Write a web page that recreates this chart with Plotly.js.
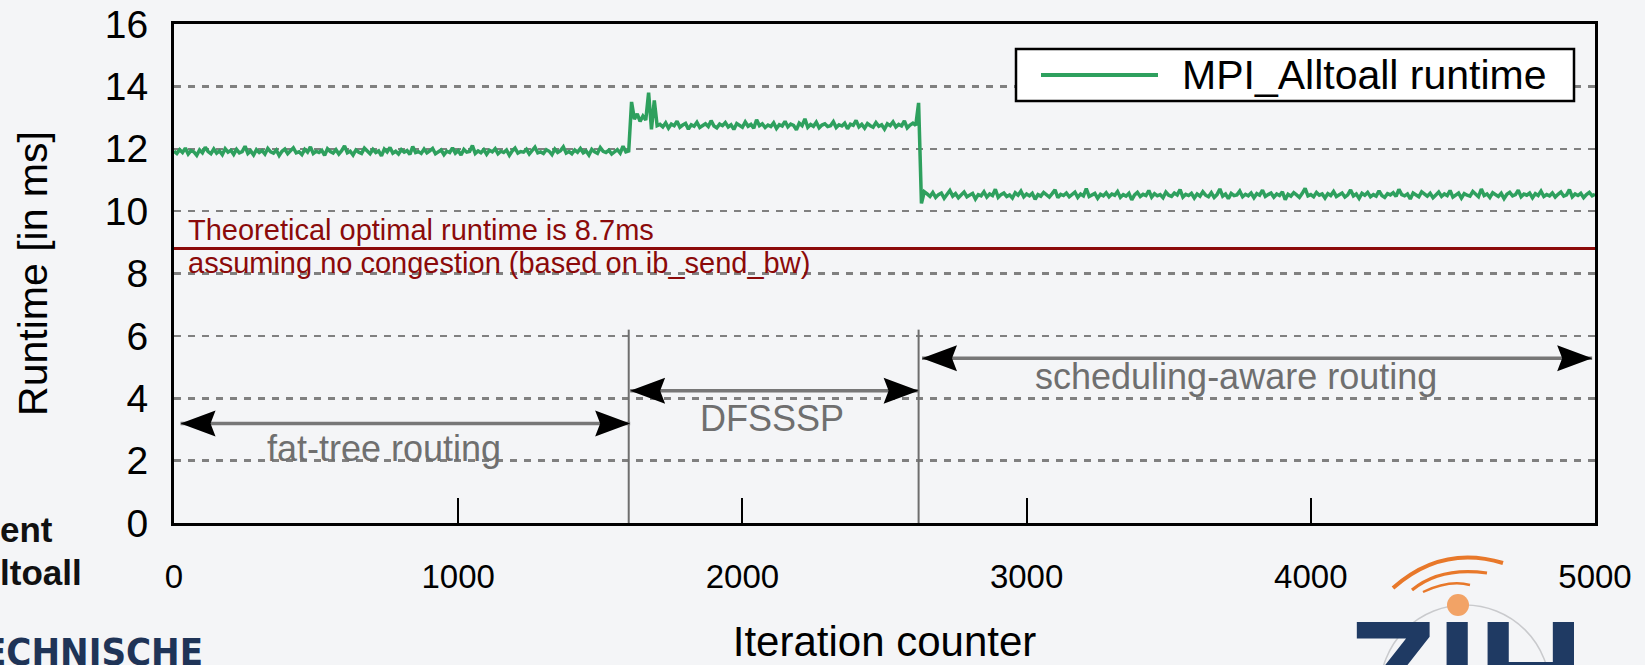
<!DOCTYPE html>
<html>
<head>
<meta charset="utf-8">
<script src="https://cdn.plot.ly/plotly-3.0.1.min.js"></script>
<style>
  html, body { margin: 0; padding: 0; background: #f4f5f7; }
  #chart { width: 1645px; height: 665px; }
</style>
</head>
<body>
<div id="chart"></div>
<script>
// ---------------- data ----------------
const iterationStep = 10;          // one sample every 10 iterations (x0 = 0)

// fat-tree routing phase: iterations 0 .. 1600
const fatTreeRuntime = [
  11.92,11.85,11.97,11.88,12.02,11.83,11.94,11.90,11.79,11.96,11.87,12.05,11.91,11.84,11.99,11.86,11.93,11.81,12.00,11.89,
  11.95,11.82,11.98,11.87,11.91,12.08,11.85,11.93,11.80,11.97,11.88,11.94,11.83,12.01,11.90,11.86,11.96,11.78,11.92,11.99,
  11.84,11.93,12.03,11.87,11.90,11.81,11.98,11.89,12.06,11.85,11.92,11.88,11.95,11.79,12.00,11.91,11.86,11.97,11.83,11.94,
  12.09,11.87,11.92,11.80,11.96,11.89,11.85,12.02,11.91,11.84,11.98,11.88,11.93,11.77,11.99,11.90,12.04,11.86,11.92,11.83,
  11.97,11.89,11.94,11.82,12.07,11.88,11.91,11.85,11.99,11.87,11.93,12.01,11.84,11.90,11.96,11.81,11.92,11.88,12.03,11.86,
  11.94,11.80,11.98,11.89,11.91,12.10,11.85,11.93,11.87,11.97,11.82,11.95,11.90,12.00,11.84,11.92,11.88,11.96,11.79,11.93,
  12.02,11.86,11.91,11.89,11.98,11.83,11.94,12.05,11.87,11.90,11.85,11.97,11.92,11.81,11.99,11.88,11.94,12.06,11.86,11.91,
  11.84,11.96,11.89,12.01,11.87,11.93,11.80,11.98,11.90,11.85,12.04,11.92,11.88,11.95,11.83,11.91,11.97,11.86,12.08,11.90,
  11.93
];

// DFSSSP phase: iterations 1610 .. 2610
const dfssspRuntime = [
  13.50,12.95,13.12,12.88,13.05,12.92,13.80,12.62,13.55,12.74,
  12.78,12.70,12.83,12.66,12.79,12.74,12.88,12.69,12.76,12.81,12.63,12.77,12.72,12.85,12.68,12.75,12.80,12.71,12.90,12.73,
  12.67,12.79,12.74,12.84,12.70,12.77,12.62,12.81,12.75,12.69,12.86,12.72,12.78,12.66,12.93,12.74,12.80,12.68,12.76,12.71,
  12.83,12.65,12.77,12.73,12.88,12.70,12.79,12.75,12.61,12.82,12.74,12.96,12.69,12.78,12.72,12.85,12.67,12.76,12.80,12.71,
  12.74,12.87,12.68,12.77,12.73,12.82,12.64,12.79,12.75,12.91,12.70,12.78,12.66,12.81,12.74,12.69,12.84,12.72,12.77,12.63,
  12.80,12.74,12.86,12.70,12.78,12.73,12.89,12.67,12.76,12.82,12.75
];

// scheduling-aware routing phase: iterations 2620 .. 5000
const schedAwareRuntime = [
  13.47,10.25,10.62,
  10.55,10.47,10.60,10.44,10.53,10.58,10.41,10.52,10.66,10.48,10.56,10.43,10.54,10.61,10.46,10.51,10.57,10.39,10.53,10.49,
  10.62,10.45,10.55,10.50,10.70,10.44,10.53,10.58,10.47,10.52,10.42,10.59,10.51,10.64,10.46,10.55,10.49,10.57,10.38,10.53,
  10.48,10.60,10.52,10.45,10.56,10.68,10.43,10.54,10.50,10.58,10.46,10.53,10.61,10.44,10.55,10.49,10.72,10.47,10.52,10.57,
  10.41,10.54,10.49,10.59,10.46,10.55,10.51,10.63,10.44,10.53,10.48,10.57,10.36,10.52,10.60,10.47,10.54,10.50,10.66,10.45,
  10.56,10.49,10.53,10.43,10.61,10.51,10.47,10.58,10.52,10.69,10.45,10.54,10.50,10.57,10.42,10.55,10.48,10.62,10.51,10.46,
  10.59,10.44,10.53,10.71,10.48,10.55,10.40,10.57,10.50,10.52,10.64,10.46,10.54,10.49,10.58,10.43,10.56,10.51,10.67,10.47,
  10.53,10.58,10.45,10.55,10.50,10.62,10.37,10.54,10.48,10.59,10.52,10.44,10.57,10.73,10.49,10.53,10.46,10.60,10.51,10.55,
  10.42,10.56,10.50,10.63,10.47,10.54,10.58,10.45,10.52,10.68,10.49,10.55,10.41,10.57,10.51,10.60,10.46,10.53,10.48,10.65,
  10.50,10.44,10.56,10.52,10.59,10.47,10.70,10.53,10.49,10.55,10.39,10.58,10.51,10.46,10.62,10.54,10.48,10.57,10.43,10.52,
  10.61,10.47,10.55,10.50,10.66,10.45,10.53,10.58,10.42,10.56,10.51,10.48,10.63,10.54,10.46,10.71,10.50,10.55,10.44,10.59,
  10.52,10.47,10.57,10.40,10.54,10.60,10.49,10.53,10.67,10.46,10.55,10.51,10.58,10.43,10.56,10.50,10.64,10.47,10.53,10.49,
  10.58,10.45,10.54,10.61,10.48,10.52,10.69,10.46,10.55,10.50,10.57,10.43,10.53,10.60,10.49,10.54
];

const seriesName = 'MPI_Alltoall runtime';
const optimalRuntime = 8.8;
const optimalText = ['Theoretical optimal runtime is 8.7ms', 'assuming no congestion (based on ib_send_bw)'];

const phaseNames = ['fat-tree routing', 'DFSSSP', 'scheduling-aware routing'];
const phaseStart = [0, 1600, 2620];
const phaseEnd = [1600, 2620, 5000];

const xTicks = [0, 1000, 2000, 3000, 4000, 5000];
const xTickText = ['0', '1000', '2000', '3000', '4000', '5000'];
const xTitle = 'Iteration counter';
const yTitle = 'Runtime [in ms]';
const slideFragments = ['ent', 'ltoall', 'ECHNISCHE', 'ZIH'];

// ---------------- drawing ----------------
const FONT = 'Liberation Sans, Arial, Helvetica, sans-serif';
const GREEN = '#2ea05e';
const DARKRED = '#8b0a0a';
const GREYTXT = '#6f6f6f';

const runtime = fatTreeRuntime.concat(dfssspRuntime, schedAwareRuntime);

const traces = [{
  type: 'scatter', mode: 'lines',
  x0: 0, dx: iterationStep, y: runtime,
  name: seriesName, showlegend: false,
  line: { color: GREEN, width: 3.5 },
  hoverinfo: 'x+y'
}];

const px2x = px => (px - 174) / 1421;
const px2y = py => (523 - py) / 499;

// per-phase layout helpers (y-levels of arrows/labels, tip insets in iterations, label nudges)
const arrowY = [3.19, 4.24, 5.28];
const labelY = [2.40, 3.36, 4.70];
const tipInset = [[23, 5], [5, 0], [12, -10]];
const labelNudge = [-61, -5, -73];

const shapes = [];
const annotations = [];

// theoretical optimum
shapes.push({ type: 'line', xref: 'paper', x0: 0, x1: 1, yref: 'y', y0: optimalRuntime, y1: optimalRuntime,
  line: { color: DARKRED, width: 3 }, layer: 'above' });
annotations.push({ xref: 'x', yref: 'y', x: 42, y: 9.39, xanchor: 'left', yanchor: 'middle', showarrow: false,
  text: optimalText[0], font: { family: FONT, size: 29, color: DARKRED } });
annotations.push({ xref: 'x', yref: 'y', x: 42, y: 8.34, xanchor: 'left', yanchor: 'middle', showarrow: false,
  text: optimalText[1], font: { family: FONT, size: 29, color: DARKRED } });

// phase boundaries
[phaseStart[1], phaseStart[2]].forEach(b => {
  shapes.push({ type: 'line', xref: 'x', x0: b, x1: b, yref: 'y', y0: 0, y1: 6.2,
    line: { color: '#6e6e6e', width: 2 }, layer: 'above' });
});

// double arrows with labels
const headLeft = 'M0,0 L35,13 L30,0 L35,-13 Z';
const headRight = 'M0,0 L-35,13 L-30,0 L-35,-13 Z';
phaseNames.forEach((name, i) => {
  const a = phaseStart[i] + tipInset[i][0];
  const b = phaseEnd[i] + tipInset[i][1];
  shapes.push({ type: 'line', xref: 'x', yref: 'y', x0: a, x1: b, y0: arrowY[i], y1: arrowY[i],
    line: { color: '#777777', width: 3.5 }, layer: 'above' });
  shapes.push({ type: 'path', xref: 'x', yref: 'y', xsizemode: 'pixel', ysizemode: 'pixel',
    xanchor: a, yanchor: arrowY[i], path: headLeft, fillcolor: '#000', line: { width: 0 }, layer: 'above' });
  shapes.push({ type: 'path', xref: 'x', yref: 'y', xsizemode: 'pixel', ysizemode: 'pixel',
    xanchor: b, yanchor: arrowY[i], path: headRight, fillcolor: '#000', line: { width: 0 }, layer: 'above' });
  annotations.push({ xref: 'x', yref: 'y', x: (phaseStart[i] + phaseEnd[i]) / 2 + labelNudge[i], y: labelY[i],
    xanchor: 'center', yanchor: 'middle', showarrow: false, text: name,
    font: { family: FONT, size: 36, color: GREYTXT } });
});

// legend box (drawn by hand to match the spacing of the original)
shapes.push({ type: 'rect', xref: 'paper', yref: 'paper', x0: px2x(1016), x1: px2x(1574), y0: px2y(101), y1: px2y(49),
  fillcolor: '#ffffff', line: { color: '#000', width: 2.5 }, layer: 'above' });
shapes.push({ type: 'line', xref: 'paper', yref: 'paper', x0: px2x(1041), x1: px2x(1158), y0: px2y(75), y1: px2y(75),
  line: { color: GREEN, width: 4 }, layer: 'above' });
annotations.push({ xref: 'paper', yref: 'paper', x: px2x(1180), y: px2y(75), xanchor: 'left', yanchor: 'middle',
  showarrow: false, text: seriesName, font: { family: FONT, size: 41, color: '#000' } });

// slide fragments around the chart
annotations.push({ xref: 'paper', yref: 'paper', x: px2x(55), y: px2y(529), xanchor: 'right', yanchor: 'middle',
  showarrow: false, text: '<b>' + slideFragments[0] + '</b>', font: { family: FONT, size: 35, color: '#111' } });
annotations.push({ xref: 'paper', yref: 'paper', x: px2x(84), y: px2y(572), xanchor: 'right', yanchor: 'middle',
  showarrow: false, text: '<b>' + slideFragments[1] + '</b>', font: { family: FONT, size: 35, color: '#111' } });
annotations.push({ xref: 'paper', yref: 'paper', x: px2x(205), y: px2y(652), xanchor: 'right', yanchor: 'middle',
  showarrow: false, text: '<b>' + slideFragments[2] + '</b>',
  font: { family: 'Liberation Sans Narrow, DejaVu Sans Condensed, ' + FONT, size: 38, color: '#1f3457' } });
annotations.push({ xref: 'paper', yref: 'paper', x: px2x(1345), y: px2y(588), xanchor: 'left', yanchor: 'top',
  showarrow: false, text: '<b>' + slideFragments[3] + '</b>', font: { family: FONT, size: 147, color: '#1f3a63' } });

// logo decoration
shapes.push({ type: 'circle', xref: 'paper', yref: 'paper', x0: px2x(1380), x1: px2x(1550), y0: px2y(775), y1: px2y(605),
  line: { color: '#c9cacd', width: 1.5 }, layer: 'below' });
shapes.push({ type: 'circle', xref: 'paper', yref: 'paper', x0: px2x(1447), x1: px2x(1469), y0: px2y(616), y1: px2y(594),
  fillcolor: '#f2a366', line: { width: 0 } });
[[[1393, 588], [1442, 544.5], [1503, 563], 4],
 [[1412, 590], [1440.5, 566.5], [1487, 573], 3.2],
 [[1423, 592], [1449.5, 579.5], [1470, 585], 2.4]].forEach(([p0, c, p2, w]) => {
  shapes.push({ type: 'path', xref: 'paper', yref: 'paper',
    path: `M${px2x(p0[0])},${px2y(p0[1])} Q${px2x(c[0])},${px2y(c[1])} ${px2x(p2[0])},${px2y(p2[1])}`,
    line: { color: '#e8782a', width: w } });
});

const layout = {
  width: 1645, height: 665,
  margin: { l: 174, r: 50, t: 24, b: 142, pad: 0 },
  paper_bgcolor: '#f4f5f7', plot_bgcolor: '#f4f5f7',
  font: { family: FONT, color: '#000' },
  showlegend: false,
  xaxis: {
    range: [0, 5000], tickmode: 'array', tickvals: xTicks, ticktext: xTickText,
    ticks: 'inside', ticklen: 25, tickwidth: 2, tickcolor: '#000',
    showline: true, linecolor: '#000', linewidth: 3, mirror: true,
    showgrid: false, zeroline: false,
    tickfont: { family: FONT, size: 33, color: '#000' }, ticklabelstandoff: 22,
    title: { text: xTitle, font: { family: FONT, size: 42, color: '#000' }, standoff: 59 }
  },
  yaxis: {
    range: [0, 16], tick0: 0, dtick: 2, ticks: '',
    showline: true, linecolor: '#000', linewidth: 3, mirror: true,
    showgrid: true, gridcolor: '#808080', gridwidth: 2.5, griddash: '7px,7px', zeroline: false,
    tickfont: { family: FONT, size: 39, color: '#000' }, ticklabelstandoff: 15,
    title: { text: yTitle, font: { family: FONT, size: 41, color: '#000' }, standoff: 45 }
  },
  shapes: shapes,
  annotations: annotations
};

Plotly.newPlot('chart', traces, layout, { displayModeBar: false, staticPlot: true });
</script>
</body>
</html>
